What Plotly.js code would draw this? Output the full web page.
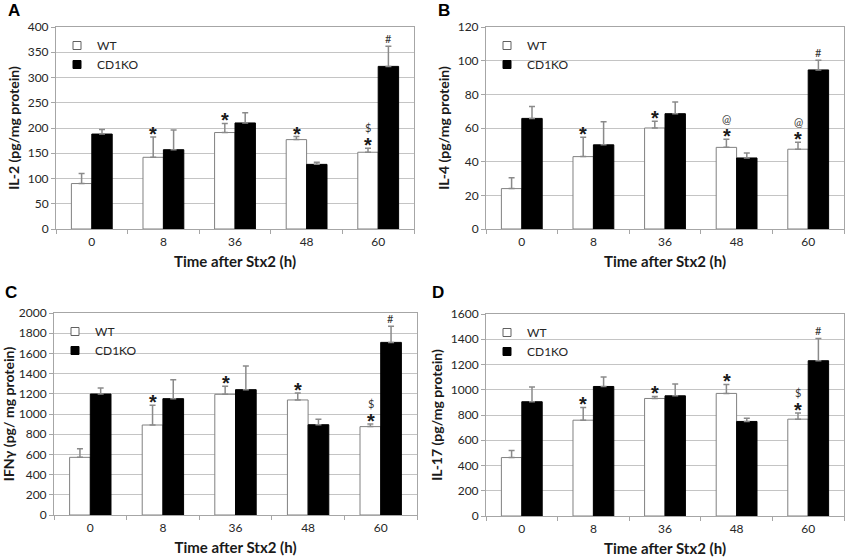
<!DOCTYPE html>
<html>
<head>
<meta charset="utf-8">
<script src="https://cdn.plot.ly/plotly-3.0.1.min.js"></script>
<style>html,body{margin:0;padding:0;background:#fff;}#chart{width:850px;height:560px;}</style>
</head>
<body>
<div id="chart"></div>
<script>
// ---- data ----
const categories = ['0', '8', '36', '48', '60'];
const seriesNames = ['WT', 'CD1KO'];

const il2WT = [90, 142, 191, 177, 152];
const il2WTErr = [20, 40, 18, 6, 8];
const il2KO = [188, 157, 210, 128, 322];
const il2KOErr = [9, 39, 20, 4, 40];

const il4WT = [24, 43, 60, 48.5, 47.4];
const il4WTErr = [6.5, 11.5, 4, 4.8, 4.1];
const il4KO = [65.7, 50, 68.5, 42.2, 94.5];
const il4KOErr = [7, 13.7, 7, 3, 5.8];

const ifngWT = [571, 891, 1195, 1139, 875];
const ifngWTErr = [86, 195, 79, 69, 26];
const ifngKO = [1198, 1152, 1241, 894, 1709];
const ifngKOErr = [59, 188, 234, 53, 159];

const il17WT = [463, 759, 931, 971, 767];
const il17WTErr = [55, 101, 16, 71, 48];
const il17KO = [905, 1026, 952, 749, 1230];
const il17KOErr = [116, 74, 93, 26, 175];

// significance marks
const il2WTStar = ['', '*', '*', '*', '*'];
const il2WTExtra = ['', '', '', '', '$'];
const il2KOMark = ['', '', '', '', '#'];
const il4WTStar = ['', '*', '*', '*', '*'];
const il4WTExtra = ['', '', '', '@', '@'];
const il4KOMark = ['', '', '', '', '#'];
const ifngWTStar = ['', '*', '*', '*', '*'];
const ifngWTExtra = ['', '', '', '', '$'];
const ifngKOMark = ['', '', '', '', '#'];
const il17WTStar = ['', '*', '*', '*', '*'];
const il17WTExtra = ['', '', '', '', '$'];
const il17KOMark = ['', '', '', '', '#'];

const yTitles = ['IL-2 (pg/mg protein)', 'IL-4 (pg/mg protein)', 'IFNγ (pg/ mg protein)', 'IL-17 (pg/mg protein)'];
const xTitle = 'Time after Stx2 (h)';
const panelLetters = ['A', 'B', 'C', 'D'];

// ---- build ----
const W = 850, H = 560;
const FONT = 'Lato, "Open Sans", sans-serif';
const panels = [
  {wt: il2WT, wtErr: il2WTErr, ko: il2KO, koErr: il2KOErr, star: il2WTStar, extra: il2WTExtra, koMark: il2KOMark,
   range: [0, 400], dtick: 50, box: [56, 414, 27, 229], letter: [14, 10]},
  {wt: il4WT, wtErr: il4WTErr, ko: il4KO, koErr: il4KOErr, star: il4WTStar, extra: il4WTExtra, koMark: il4KOMark,
   range: [0, 120], dtick: 20, box: [486, 844, 27, 229], letter: [444, 10]},
  {wt: ifngWT, wtErr: ifngWTErr, ko: ifngKO, koErr: ifngKOErr, star: ifngWTStar, extra: ifngWTExtra, koMark: ifngKOMark,
   range: [0, 2000], dtick: 200, box: [54, 417, 313, 515], letter: [11, 292]},
  {wt: il17WT, wtErr: il17WTErr, ko: il17KO, koErr: il17KOErr, star: il17WTStar, extra: il17WTExtra, koMark: il17KOMark,
   range: [0, 1600], dtick: 200, box: [486, 844, 314, 516], letter: [438, 292]}
];

const traces = [];
const annotations = [];
const layout = {
  width: W, height: H,
  margin: {l: 0, r: 0, t: 0, b: 0},
  paper_bgcolor: '#fff', plot_bgcolor: '#fff',
  barmode: 'group', bargap: 0.43, bargroupgap: 0,
  font: {family: FONT, size: 12, color: '#262626'},
  showlegend: true,
  annotations: annotations
};

panels.forEach((p, i) => {
  const n = i + 1;
  const xa = n === 1 ? 'x' : 'x' + n;
  const ya = n === 1 ? 'y' : 'y' + n;
  const lg = n === 1 ? 'legend' : 'legend' + n;
  const [x0, x1, y0, y1] = p.box;
  const errStyle = {color: '#8a8a8a', thickness: 1.5, width: 3};
  traces.push({
    type: 'bar', name: seriesNames[0], x: categories, y: p.wt, xaxis: xa, yaxis: ya, showlegend: false,
    marker: {color: '#ffffff', line: {color: '#808080', width: 1}},
    error_y: Object.assign({type: 'data', symmetric: false, array: p.wtErr, arrayminus: p.wtErr.map(() => 0)}, errStyle),
    hoverinfo: 'skip'
  });
  traces.push({
    type: 'bar', name: seriesNames[1], x: categories, y: p.ko, xaxis: xa, yaxis: ya, showlegend: false,
    marker: {color: '#000000', line: {color: '#000000', width: 1}},
    error_y: Object.assign({type: 'data', symmetric: false, array: p.koErr, arrayminus: p.koErr.map(() => 0)}, errStyle),
    hoverinfo: 'skip'
  });
  // legend entries (square swatches)
  traces.push({type: 'scatter', mode: 'markers', name: seriesNames[0], x: [null], y: [null], xaxis: xa, yaxis: ya, legend: lg,
    marker: {symbol: 'square', size: 8, color: '#ffffff', line: {color: '#606060', width: 1}}});
  traces.push({type: 'scatter', mode: 'markers', name: seriesNames[1], x: [null], y: [null], xaxis: xa, yaxis: ya, legend: lg,
    marker: {symbol: 'square', size: 8, color: '#000000', line: {color: '#000000', width: 1}}});

  const xKey = n === 1 ? 'xaxis' : 'xaxis' + n;
  const yKey = n === 1 ? 'yaxis' : 'yaxis' + n;
  layout[xKey] = {
    domain: [x0 / W, x1 / W], anchor: ya, type: 'category', range: [-0.5, categories.length - 0.5],
    categoryorder: 'array', categoryarray: categories,
    showline: true, linecolor: '#a6a6a6', linewidth: 1, mirror: true,
    ticks: 'outside', tickson: 'boundaries', ticklen: 4, tickcolor: '#a6a6a6', ticklabelstandoff: 2,
    showgrid: false, tickfont: {family: FONT, size: 12, color: '#262626'},
    title: {text: xTitle, font: {family: FONT, size: 15, weight: 'bold', color: '#1a1a1a'}, standoff: 8}
  };
  layout[yKey] = {
    domain: [1 - y1 / H, 1 - y0 / H], anchor: xa, range: p.range, dtick: p.dtick,
    showline: true, linecolor: '#a6a6a6', linewidth: 1, mirror: true,
    ticks: 'outside', ticklen: 4, tickcolor: '#a6a6a6',
    showgrid: true, gridcolor: '#c4c4c4', gridwidth: 1, zeroline: false,
    tickfont: {family: FONT, size: 12, color: '#262626'},
    title: {text: yTitles[i], font: {family: FONT, size: 14, weight: 'bold', color: '#1a1a1a'}, standoff: 4}
  };
  layout[lg] = {
    x: (x0 + 1) / W, y: 1 - (y0 + 4) / H, xanchor: 'left', yanchor: 'top',
    bgcolor: 'rgba(0,0,0,0)', font: {family: FONT, size: 12, color: '#262626'},
    itemwidth: 30, tracegroupgap: 0
  };
  annotations.push({
    xref: 'paper', yref: 'paper', x: p.letter[0] / W, y: 1 - p.letter[1] / H,
    text: panelLetters[i], showarrow: false, xanchor: 'center', yanchor: 'middle',
    font: {family: 'Liberation Sans, Arial, sans-serif', size: 17, weight: 'bold', color: '#000'}
  });
  categories.forEach((c, k) => {
    const topWT = p.wt[k] + p.wtErr[k];
    const topKO = p.ko[k] + p.koErr[k];
    if (p.star[k]) {
      annotations.push({xref: xa, yref: ya, x: k, y: topWT, xshift: -10, yshift: 3,
        text: p.star[k], showarrow: false, yanchor: 'middle',
        font: {family: 'Liberation Sans, Arial, sans-serif', size: 20, weight: 'bold', color: '#1a1a1a'}});
    }
    if (p.extra[k]) {
      annotations.push({xref: xa, yref: ya, x: k, y: topWT, xshift: -10, yshift: 21,
        text: p.extra[k], showarrow: false, yanchor: 'middle',
        font: {family: FONT, size: 11, color: '#333333'}});
    }
    if (p.koMark[k]) {
      annotations.push({xref: xa, yref: ya, x: k, y: topKO, xshift: 10, yshift: 8,
        text: p.koMark[k], showarrow: false, yanchor: 'middle',
        font: {family: FONT, size: 11, color: '#333333'}});
    }
  });
});

Plotly.newPlot('chart', traces, layout, {staticPlot: true, displayModeBar: false});
</script>
</body>
</html>
